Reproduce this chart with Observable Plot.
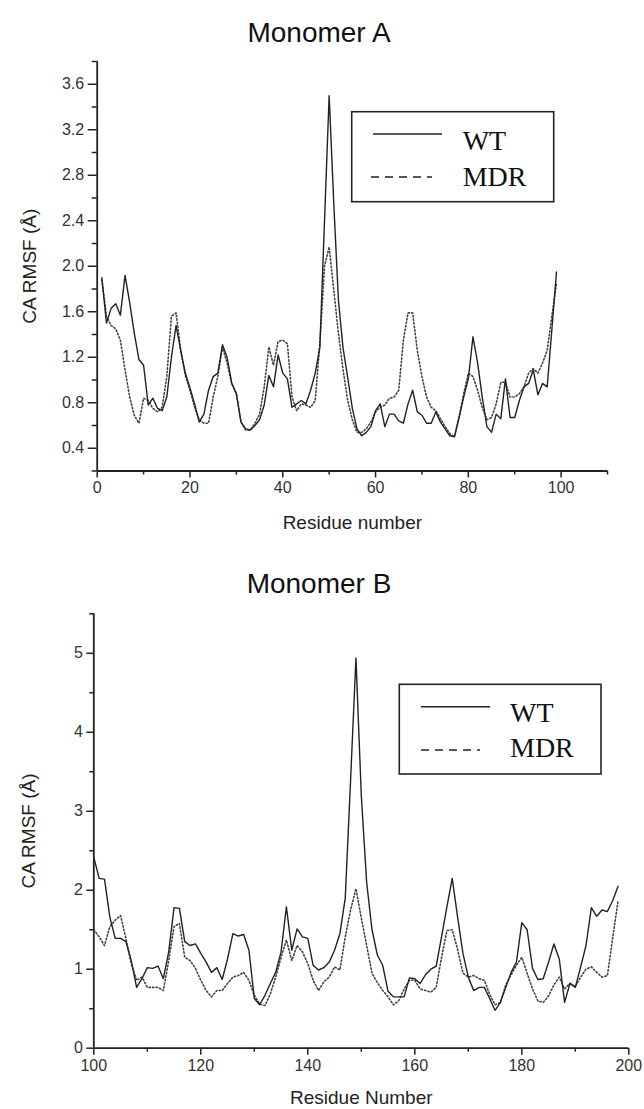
<!DOCTYPE html>
<html><head><meta charset="utf-8">
<script src="https://cdn.jsdelivr.net/npm/d3@7"></script>
<script src="https://cdn.jsdelivr.net/npm/@observablehq/plot@0.6"></script>
<style>
body{margin:0;background:#fff;}
#wrap{position:relative;width:644px;height:1109px;overflow:hidden;background:#fff;}
#wrap svg.plot{position:absolute;left:0;}
#overlay{position:absolute;left:0;top:0;pointer-events:none;}
</style></head><body><div id="wrap"></div>
<script>
// ---- Monomer A (residues 1..99) ----
const startA = 1;
const wtA = [1.90,1.50,1.63,1.67,1.57,1.92,1.68,1.41,1.18,1.13,
0.78,0.84,0.75,0.73,0.85,1.20,1.48,1.26,1.06,0.93,
0.79,0.63,0.70,0.91,1.03,1.06,1.31,1.20,0.97,0.88,
0.63,0.57,0.56,0.60,0.65,0.78,1.04,0.94,1.22,1.06,
1.01,0.76,0.79,0.82,0.79,0.91,1.06,1.29,2.40,3.50,
2.55,1.70,1.28,1.02,0.75,0.57,0.51,0.54,0.59,0.73,
0.79,0.59,0.70,0.70,0.64,0.62,0.79,0.91,0.72,0.69,
0.62,0.62,0.72,0.63,0.57,0.51,0.50,0.67,0.85,1.01,
1.38,1.15,0.85,0.59,0.54,0.70,0.66,1.01,0.67,0.67,
0.82,0.94,0.97,1.09,0.87,0.97,0.94,1.44,1.95];
const mdrA = [1.88,1.56,1.48,1.45,1.35,1.09,0.85,0.69,0.62,0.84,
0.82,0.75,0.72,0.76,1.03,1.56,1.59,1.26,1.04,0.91,
0.76,0.65,0.62,0.62,0.85,1.03,1.29,1.15,0.97,0.88,
0.63,0.56,0.56,0.62,0.70,0.94,1.29,1.13,1.34,1.35,
1.32,0.85,0.73,0.79,0.78,0.76,0.82,1.32,2.00,2.17,
1.79,1.41,1.09,0.82,0.65,0.54,0.54,0.57,0.63,0.72,
0.76,0.78,0.84,0.85,0.91,1.35,1.59,1.59,1.26,1.03,
0.85,0.76,0.73,0.66,0.59,0.53,0.50,0.67,0.88,1.06,
1.03,0.91,0.76,0.65,0.67,0.79,0.98,0.98,0.85,0.85,
0.88,0.94,1.06,1.10,1.06,1.15,1.26,1.56,1.85];
const xTicksA = [0,20,40,60,80,100];
const xMinorA = [10,30,50,70,90,110];
const yTicksA = [0.4,0.8,1.2,1.6,2.0,2.4,2.8,3.2,3.6];
const yMinorA = [0.2,0.6,1.0,1.4,1.8,2.2,2.6,3.0,3.4,3.8];
const xDomainA = [0,110];
const yDomainA = [0.2,3.8];

// ---- Monomer B (residues 100..198) ----
const startB = 100;
const wtB = [2.42,2.15,2.14,1.66,1.39,1.39,1.35,1.11,0.77,0.88,
1.02,1.01,1.04,0.88,1.22,1.78,1.77,1.35,1.30,1.32,
1.20,1.09,0.96,1.02,0.87,1.13,1.45,1.42,1.44,1.24,
0.63,0.55,0.67,0.82,0.96,1.22,1.79,1.24,1.51,1.41,
1.39,1.05,0.99,1.02,1.09,1.24,1.45,1.90,3.40,4.94,
3.20,2.10,1.50,1.18,1.05,0.72,0.65,0.65,0.65,0.89,
0.88,0.82,0.93,1.00,1.04,1.41,1.79,2.15,1.66,1.20,
0.90,0.73,0.77,0.77,0.63,0.48,0.58,0.77,0.96,1.09,
1.59,1.50,1.01,0.87,0.88,1.09,1.32,1.13,0.58,0.82,
0.77,1.03,1.30,1.78,1.67,1.75,1.73,1.87,2.05];
const mdrB = [1.50,1.41,1.30,1.54,1.62,1.68,1.39,1.07,0.86,0.90,
0.77,0.77,0.77,0.73,1.11,1.54,1.58,1.15,1.11,1.01,
0.86,0.73,0.65,0.73,0.73,0.82,0.90,0.92,0.96,0.86,
0.67,0.56,0.54,0.69,0.90,1.15,1.37,1.11,1.30,1.22,
1.07,0.86,0.73,0.84,0.90,1.03,0.99,1.41,1.75,2.02,
1.65,1.30,0.95,0.83,0.73,0.65,0.55,0.60,0.75,0.86,
0.86,0.75,0.73,0.71,0.77,1.15,1.49,1.50,1.25,0.95,
0.90,0.92,0.88,0.86,0.68,0.55,0.58,0.80,0.93,1.05,
1.15,0.95,0.75,0.60,0.58,0.66,0.80,0.90,0.75,0.82,
0.78,0.90,1.00,1.03,0.96,0.90,0.92,1.40,1.87];
const xTicksB = [100,120,140,160,180,200];
const xMinorB = [110,130,150,170,190];
const yTicksB = [0,1,2,3,4,5];
const yMinorB = [0.5,1.5,2.5,3.5,4.5,5.5];
const xDomainB = [100,200];
const yDomainB = [0,5.5];

const titles = ["Monomer A","Monomer B"];
const seriesNames = ["WT","MDR"];
const yLabel = "CA RMSF (Å)";
const xLabels = ["Residue number","Residue Number"];

const toRows = (start, wt, mdr) => wt.map((v, i) => ({residue: start + i, wt: v, mdr: mdr[i]}));
const rowsA = toRows(startA, wtA, mdrA);
const rowsB = toRows(startB, wtB, mdrB);

const AX = "#222";
const font = "'Liberation Sans', Arial, sans-serif";

function makeChart(rows, cfg) {
  const svg = Plot.plot({
    width: 644, height: cfg.height,
    marginTop: cfg.mt, marginBottom: cfg.mb, marginLeft: cfg.ml, marginRight: cfg.mr,
    style: {fontFamily: font, fontSize: "16px", color: "#333", background: "transparent"},
    x: {domain: cfg.xDomain},
    y: {domain: cfg.yDomain},
    marks: [
      Plot.line(rows, {x: "residue", y: "mdr", stroke: "#444", strokeWidth: 1.6, strokeDasharray: "1.4,2.2"}),
      Plot.line(rows, {x: "residue", y: "wt", stroke: "#222", strokeWidth: 1.4}),
      Plot.ruleX([cfg.xDomain[0]], {stroke: AX, strokeWidth: 1.8}),
      Plot.ruleY([cfg.yDomain[0]], {stroke: AX, strokeWidth: 1.8}),
      Plot.axisX({ticks: cfg.xMinor, tickSize: 4, tickFormat: () => "", label: null, stroke: AX, strokeWidth: 1.5}),
      Plot.axisY({ticks: cfg.yMinor, tickSize: cfg.yMinorSize, tickFormat: () => "", label: null, stroke: AX, strokeWidth: 1.5}),
      Plot.axisX({ticks: cfg.xTicks, tickSize: 7, tickPadding: 4, tickFormat: d => String(d), stroke: AX, strokeWidth: 1.5,
        label: cfg.xLabel, labelAnchor: "center", labelArrow: "none", labelOffset: cfg.xLabelOffset}),
      Plot.axisY({ticks: cfg.yTicks, tickSize: cfg.yMajorSize, tickPadding: 4, tickFormat: cfg.yFormat, stroke: AX, strokeWidth: 1.5,
        label: yLabel, labelAnchor: "center", labelArrow: "none", labelOffset: cfg.yLabelOffset})
    ]
  });
  svg.classList.add("plot");
  svg.style.top = cfg.top + "px";
  d3.select(svg).selectAll('[aria-label="x-axis label"], [aria-label="y-axis label"]')
    .attr("font-size", 19).attr("fill", "#222");
  return svg;
}

const wrap = document.getElementById("wrap");
wrap.appendChild(makeChart(rowsA, {
  top: 0, height: 545, mt: 61, mb: 74.5, ml: 96.7, mr: 37,
  xDomain: xDomainA, yDomain: yDomainA, xTicks: xTicksA, xMinor: xMinorA,
  yTicks: yTicksA, yMinor: yMinorA, yFormat: d3.format(".1f"),
  yMajorSize: 9, yMinorSize: 5, xLabel: xLabels[0], xLabelOffset: 58, yLabelOffset: 75
}));
wrap.appendChild(makeChart(rowsB, {
  top: 545, height: 564, mt: 68.3, mb: 61.3, ml: 93.3, mr: 15.7,
  xDomain: xDomainB, yDomain: yDomainB, xTicks: xTicksB, xMinor: xMinorB,
  yTicks: yTicksB, yMinor: yMinorB, yFormat: d => String(d),
  yMajorSize: 7, yMinorSize: 4, xLabel: xLabels[1], xLabelOffset: 56, yLabelOffset: 72
}));

// ---- titles and legends (overlay) ----
const ov = d3.select(wrap).append("svg").attr("id", "overlay").attr("width", 644).attr("height", 1109);
const titleSpecs = [{text: titles[0], x: 319, y: 42}, {text: titles[1], x: 319, y: 593}];
titleSpecs.forEach(t => ov.append("text").attr("x", t.x).attr("y", t.y).attr("text-anchor", "middle")
  .attr("font-family", font).attr("font-size", 28).attr("fill", "#111").text(t.text));

const legends = [
  {x: 351.7, y: 111.7, w: 202, h: 90, l1: [373, 442, 134], l2: [371, 432, 177], tx: 462.7, t1: 140, t2: 176},
  {x: 399.3, y: 684.3, w: 201.7, h: 89.7, l1: [421, 490, 706.7], l2: [421, 480, 750], tx: 510, t1: 712, t2: 747}
];
legends.forEach(L => {
  const g = ov.append("g");
  g.append("rect").attr("x", L.x).attr("y", L.y).attr("width", L.w).attr("height", L.h)
    .attr("fill", "#fff").attr("stroke", "#222").attr("stroke-width", 1.6);
  g.append("line").attr("x1", L.l1[0]).attr("x2", L.l1[1]).attr("y1", L.l1[2]).attr("y2", L.l1[2])
    .attr("stroke", "#222").attr("stroke-width", 1.5);
  g.append("line").attr("x1", L.l2[0]).attr("x2", L.l2[1]).attr("y1", L.l2[2]).attr("y2", L.l2[2])
    .attr("stroke", "#222").attr("stroke-width", 1.5).attr("stroke-dasharray", "8,6");
  [[seriesNames[0], L.t1], [seriesNames[1], L.t2]].forEach(([s, cy]) =>
    g.append("text").attr("x", L.tx).attr("y", cy).attr("dy", "0.35em")
      .attr("font-family", "'Liberation Serif', 'Times New Roman', serif").attr("font-size", 28)
      .attr("fill", "#111").text(s));
});
</script>
</body></html>
